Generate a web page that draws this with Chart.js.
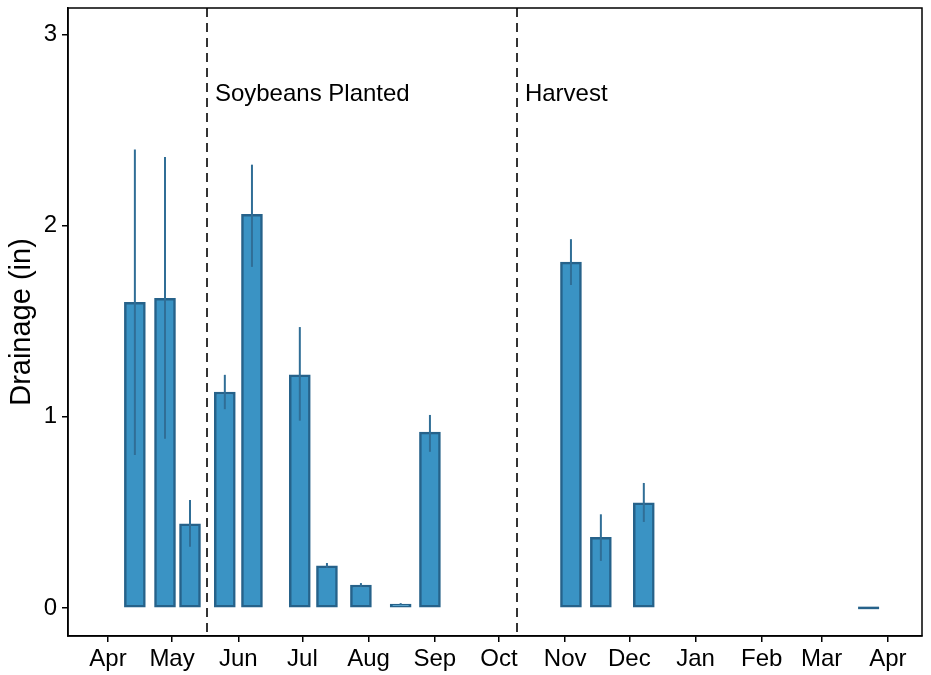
<!DOCTYPE html>
<html>
<head>
<meta charset="utf-8">
<script src="https://cdn.jsdelivr.net/npm/chart.js@4"></script>
<style>
html,body{margin:0;padding:0;background:#fff;}
#wrap{width:931px;height:675px;position:relative;}
</style>
</head>
<body>
<div id="wrap"><canvas id="c" width="931" height="675"></canvas></div>
<script>
// Days since April 1
const barDays = [12.6, 26.7, 38.4, 54.7, 67.4, 89.8, 102.5, 118.4, 137, 150.7, 216.7, 230.7, 250.8, 356];
const drainage = [1.60, 1.62, 0.44, 1.13, 2.06, 1.22, 0.22, 0.12, 0.02, 0.92, 1.81, 0.37, 0.55, 0];
const errLow  = [0.80, 0.885, 0.32, 1.04, 1.785, 0.98, 0.21, 0.11, 0.015, 0.817, 1.69, 0.246, 0.45, 0];
const errHigh = [2.40, 2.36, 0.565, 1.22, 2.32, 1.47, 0.235, 0.13, 0.025, 1.01, 1.93, 0.49, 0.654, 0];
const monthTicks = [0, 30, 61, 91, 122, 153, 183, 214, 244, 275, 306, 334, 365];
const monthLabels = ['Apr','May','Jun','Jul','Aug','Sep','Oct','Nov','Dec','Jan','Feb','Mar','Apr'];
const yTicks = [0, 1, 2, 3];
const eventDays = [46.3, 191.4];
const eventLabels = ['Soybeans Planted', 'Harvest'];

const FONT = 'Liberation Sans, Arial, sans-serif';
const fillCol = 'rgb(58,147,196)';
const borderCol = 'rgb(38,98,138)';

const extras = {
  id: 'extras',
  afterDatasetsDraw(chart) {
    const ctx = chart.ctx, x = chart.scales.x, y = chart.scales.y, a = chart.chartArea;
    ctx.save();
    const meta = chart.getDatasetMeta(0);
    ctx.strokeStyle = borderCol; ctx.lineWidth = 2.5;
    drainage.forEach((v, i) => {
      if (v === 0) {
        const el = meta.data[i];
        const px = x.getPixelForValue(barDays[i]), py = y.getPixelForValue(0);
        const w = el.width;
        ctx.beginPath(); ctx.moveTo(px - w/2, py); ctx.lineTo(px + w/2, py); ctx.stroke();
      }
    });
    ctx.strokeStyle = 'rgb(48,110,150)'; ctx.lineWidth = 2;
    barDays.forEach((d, i) => {
      if (errHigh[i] === errLow[i]) return;
      const px = x.getPixelForValue(d);
      ctx.beginPath();
      ctx.moveTo(px, y.getPixelForValue(errLow[i]));
      ctx.lineTo(px, y.getPixelForValue(errHigh[i]));
      ctx.stroke();
    });
    ctx.strokeStyle = '#333'; ctx.lineWidth = 2; ctx.setLineDash([9, 6]);
    eventDays.forEach((d) => {
      const px = Math.round(x.getPixelForValue(d));
      ctx.beginPath(); ctx.moveTo(px, a.top); ctx.lineTo(px, a.bottom); ctx.stroke();
    });
    ctx.setLineDash([]);
    ctx.fillStyle = '#000'; ctx.font = '24px ' + FONT; ctx.textBaseline = 'middle'; ctx.textAlign = 'left';
    eventDays.forEach((d, i) => {
      const px = x.getPixelForValue(d);
      ctx.fillText(eventLabels[i], px + 8, y.getPixelForValue(2.69));
    });
    ctx.strokeStyle = '#000'; ctx.lineWidth = 1.5;
    ctx.strokeRect(a.left, a.top, a.right - a.left, a.bottom - a.top);
    ctx.restore();
  }
};

new Chart(document.getElementById('c'), {
  type: 'bar',
  data: {
    datasets: [{
      data: barDays.map((d, i) => ({ x: d, y: drainage[i] })),
      backgroundColor: fillCol,
      borderColor: borderCol,
      borderWidth: 2.5,
      borderSkipped: false,
      barThickness: 21
    }]
  },
  options: {
    responsive: false,
    animation: false,
    layout: { padding: { left: 0, right: 9, top: 8, bottom: 0 } },
    plugins: { legend: { display: false }, tooltip: { enabled: false } },
    scales: {
      x: {
        type: 'linear',
        offset: false,
        min: -18.7, max: 381,
        afterBuildTicks(s) { s.ticks = monthTicks.map(v => ({ value: v })); },
        afterFit(s) { s.height = 39; s.paddingLeft = 0; s.paddingRight = 0; },
        ticks: {
          autoSkip: false, maxRotation: 0, color: '#000', padding: 3,
          font: { size: 24, family: FONT },
          callback(v) { const i = monthTicks.indexOf(v); return i >= 0 ? monthLabels[i] : ''; }
        },
        grid: { offset: false, drawOnChartArea: false, color: '#000', tickLength: 6, lineWidth: 1.5 },
        border: { color: '#000', width: 1.5 }
      },
      y: {
        min: -0.147, max: 3.14,
        afterBuildTicks(s) { s.ticks = yTicks.map(v => ({ value: v })); },
        afterFit(s) { s.width = 68; s.paddingTop = 0; s.paddingBottom = 0; },
        ticks: { color: '#000', padding: 5, font: { size: 24, family: FONT } },
        grid: { drawOnChartArea: false, color: '#000', tickLength: 6, lineWidth: 1.5 },
        border: { color: '#000', width: 1.5 },
        title: { display: true, text: 'Drainage (in)', color: '#000', font: { size: 29, family: FONT }, padding: { top: 5, bottom: 0 } }
      }
    }
  },
  plugins: [extras]
});
</script>
</body>
</html>
